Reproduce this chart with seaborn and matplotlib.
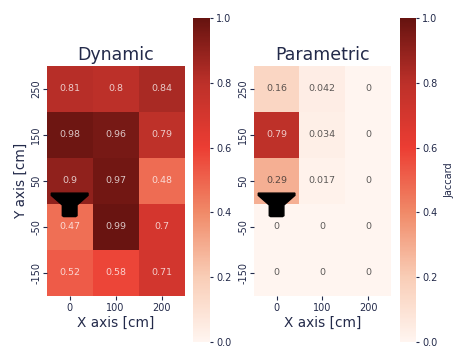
import numpy as np
import pandas as pd
import matplotlib
matplotlib.use('Agg')
import matplotlib.pyplot as plt
import seaborn as sns
from matplotlib.colors import LinearSegmentedColormap

x_labels = [0, 100, 200]
y_labels = [250, 150, 50, -50, -150]

dynamic = [[0.81, 0.8, 0.84],
           [0.98, 0.96, 0.79],
           [0.9, 0.97, 0.48],
           [0.47, 0.99, 0.7],
           [0.52, 0.58, 0.71]]
parametric = [[0.16, 0.042, 0],
              [0.79, 0.034, 0],
              [0.29, 0.017, 0],
              [0, 0, 0],
              [0, 0, 0]]

# speaker outline in cm
speaker_x = [-40, 40, 40, 16, 16, 13, -13, -16, -16, -40]
speaker_y = [23, 23, 18, -3, -26, -28, -28, -26, -3, 18]

text_col = '#232a4a'
reds = LinearSegmentedColormap.from_list(
    'jaccard', ['#fff5f0', '#f9cdb6', '#f08a68', '#ec3d33', '#bc3029', '#661310'])

plt.rcParams['text.color'] = text_col
plt.rcParams['axes.labelcolor'] = text_col
plt.rcParams['xtick.color'] = text_col
plt.rcParams['ytick.color'] = text_col

fig = plt.figure(figsize=(4.76, 3.51), dpi=100)


def box(l, t, r, b):
    return fig.add_axes([l / 476, 1 - b / 351, (r - l) / 476, (b - t) / 351])


def draw(data, ax_box, cbar_box, title, ylabel, cbar_label):
    ax = box(*ax_box)
    cax = box(*cbar_box)
    df = pd.DataFrame(data, index=y_labels, columns=x_labels)
    sns.heatmap(df, ax=ax, cbar_ax=cax, cmap=reds, vmin=0, vmax=1, annot=True,
                annot_kws={'size': 6.8, 'alpha': 0.75}, fmt='.2g')
    ax.set_title(title, fontsize=12.5, pad=4)
    ax.set_xlabel('X axis [cm]', fontsize=9.8, labelpad=2)
    ax.set_ylabel(ylabel, fontsize=9.8, labelpad=2)
    ax.tick_params(labelsize=7, length=3, width=0.8, pad=2)
    ax.tick_params(axis='y', pad=1)
    ax.set_yticklabels(y_labels, rotation=90, va='center')
    ax.set_xticklabels(x_labels, rotation=0)
    cax.tick_params(labelsize=7, length=2.5, pad=2)
    cax.set_ylabel(cbar_label, fontsize=7, labelpad=5)
    # heatmap cells are 100 cm wide, y=0 is the border under the third row
    sx = (np.array(speaker_x) + 50) / 100
    sy = 3 - np.array(speaker_y) / 100
    ax.fill(sx, sy, color='black', zorder=5, clip_on=False)
    return ax


draw(dynamic, (46.7, 65.7, 184.5, 295.7), (193, 18, 210, 342), 'Dynamic', 'Y axis [cm]', '')
draw(parametric, (253.7, 65.7, 391, 295.7), (400, 18, 416, 342), 'Parametric', '', 'Jaccard')

fig.savefig('out.png', dpi=100)
